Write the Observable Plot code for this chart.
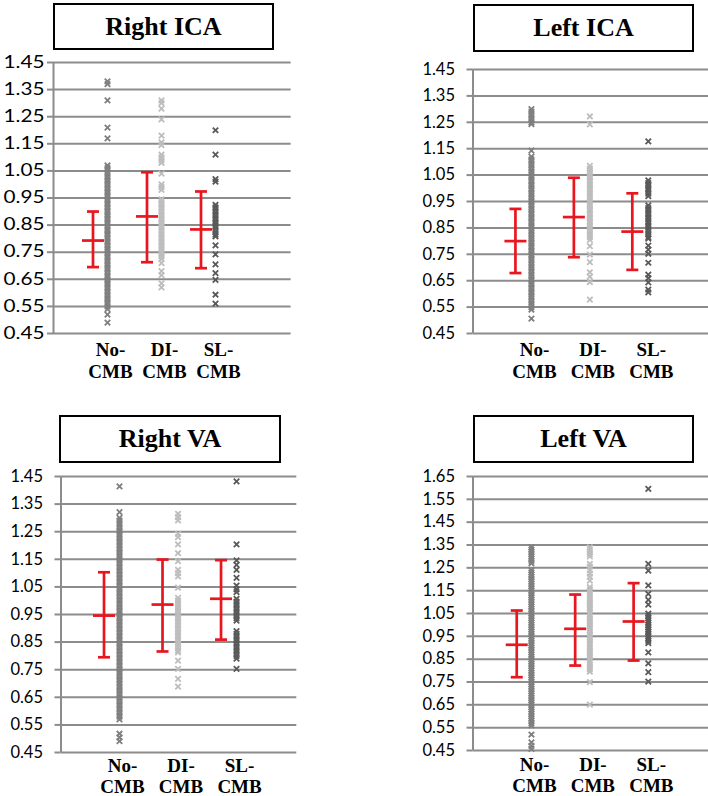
<!DOCTYPE html>
<html><head><meta charset="utf-8">
<script src="https://cdn.jsdelivr.net/npm/d3@7"></script>
<script src="https://cdn.jsdelivr.net/npm/@observablehq/plot@0.6"></script>
<style>
html,body{margin:0;padding:0;background:#fff;}
#root{position:relative;width:708px;height:796px;overflow:hidden;background:#fff;}
.title{position:absolute;box-sizing:border-box;border:2px solid #000;background:#fff;font-family:"Liberation Serif","Times New Roman",serif;font-weight:bold;font-size:26px;text-align:center;color:#000;}
svg g[aria-label="x-axis tick label"], svg g[aria-label="x-axis tick label"] text {font-family:"Liberation Serif","Times New Roman",serif !important;font-weight:bold !important;font-size:19px !important;}
svg g[aria-label="y-axis tick label"], svg g[aria-label="y-axis tick label"] text {font-family:"Lato",sans-serif !important;font-size:16.5px !important;}
</style></head><body><div id="root"></div><script>
// ---- categories & tick labels ----
const catNames = ["No-CMB", "DI-CMB", "SL-CMB"];
const catLabels = ["No-\nCMB", "DI-\nCMB", "SL-\nCMB"];
const yTicksA = [0.45, 0.55, 0.65, 0.75, 0.85, 0.95, 1.05, 1.15, 1.25, 1.35, 1.45];
const yTicksB = [0.45, 0.55, 0.65, 0.75, 0.85, 0.95, 1.05, 1.15, 1.25, 1.35, 1.45, 1.55, 1.65];

// ---- Right ICA ----
const rightICA_no = [1.38,1.37,1.31,1.21,1.17,1.07,1.06,1.05,1.04,1.03,1.02,1.01,1.00,0.99,0.98,0.97,0.96,0.95,0.94,0.93,0.92,0.91,0.90,0.89,0.88,0.87,0.86,0.85,0.84,0.83,0.82,0.81,0.80,0.79,0.78,0.77,0.76,0.75,0.74,0.73,0.72,0.71,0.70,0.69,0.68,0.67,0.66,0.65,0.64,0.63,0.62,0.61,0.60,0.59,0.58,0.57,0.56,0.55,0.54,0.52,0.49];
const rightICA_di = [1.31,1.30,1.28,1.24,1.18,1.155,1.145,1.11,1.10,1.09,1.08,1.04,1.00,0.99,0.98,0.945,0.935,0.925,0.915,0.905,0.895,0.885,0.875,0.865,0.855,0.845,0.835,0.825,0.815,0.805,0.795,0.785,0.775,0.765,0.755,0.745,0.735,0.725,0.71,0.68,0.665,0.635,0.62];
const rightICA_sl = [1.20,1.11,1.02,1.01,0.925,0.915,0.905,0.895,0.885,0.875,0.865,0.855,0.845,0.835,0.825,0.815,0.808,0.775,0.742,0.705,0.673,0.648,0.593,0.56];
const rightICA_mean = [0.793, 0.882, 0.834];
const rightICA_lo = [0.695, 0.713, 0.691];
const rightICA_hi = [0.900, 1.045, 0.974];

// ---- Left ICA ----
const leftICA_no = [1.30,1.29,1.28,1.27,1.26,1.25,1.243,1.143,1.12,1.11,1.10,1.09,1.08,1.07,1.06,1.05,1.04,1.03,1.02,1.01,1.00,0.99,0.98,0.97,0.96,0.95,0.94,0.93,0.92,0.91,0.90,0.89,0.88,0.87,0.86,0.85,0.84,0.83,0.82,0.81,0.80,0.79,0.78,0.77,0.76,0.75,0.74,0.73,0.72,0.71,0.70,0.69,0.68,0.67,0.66,0.65,0.64,0.63,0.62,0.61,0.60,0.59,0.58,0.57,0.56,0.55,0.54,0.506];
const leftICA_di = [1.272,1.242,1.085,1.075,1.065,1.055,1.045,1.035,1.025,1.015,1.005,0.995,0.985,0.975,0.965,0.955,0.945,0.935,0.925,0.915,0.905,0.895,0.885,0.875,0.865,0.855,0.845,0.835,0.825,0.815,0.805,0.781,0.749,0.72,0.682,0.665,0.645,0.578];
const leftICA_sl = [1.178,1.03,1.02,1.01,1.00,0.99,0.98,0.97,0.935,0.925,0.915,0.905,0.895,0.885,0.875,0.865,0.855,0.845,0.835,0.825,0.815,0.809,0.783,0.768,0.752,0.718,0.673,0.66,0.644,0.616,0.606];
const leftICA_mean = [0.800, 0.891, 0.836];
const leftICA_lo = [0.679, 0.739, 0.691];
const leftICA_hi = [0.922, 1.040, 0.981];

// ---- Right VA ----
const rightVA_no = [1.414,1.321,1.30,1.29,1.28,1.27,1.26,1.25,1.24,1.23,1.22,1.21,1.20,1.19,1.18,1.17,1.16,1.15,1.14,1.13,1.12,1.11,1.10,1.09,1.08,1.07,1.06,1.05,1.04,1.03,1.02,1.01,1.00,0.99,0.98,0.97,0.96,0.95,0.94,0.93,0.92,0.91,0.90,0.89,0.88,0.87,0.86,0.85,0.84,0.83,0.82,0.81,0.80,0.79,0.78,0.77,0.76,0.75,0.74,0.73,0.72,0.71,0.70,0.69,0.68,0.67,0.66,0.65,0.64,0.63,0.62,0.61,0.60,0.59,0.58,0.57,0.518,0.505,0.491];
const rightVA_di = [1.315,1.303,1.291,1.242,1.23,1.204,1.172,1.143,1.112,1.10,1.088,1.047,1.01,1.00,0.99,0.98,0.97,0.96,0.95,0.94,0.93,0.92,0.91,0.90,0.89,0.88,0.87,0.86,0.85,0.84,0.83,0.82,0.813,0.783,0.753,0.717,0.689];
const rightVA_sl = [1.432,1.204,1.146,1.13,1.112,1.083,1.055,1.041,1.031,1.007,0.997,0.987,0.977,0.967,0.957,0.947,0.937,0.928,0.89,0.88,0.87,0.86,0.85,0.84,0.83,0.82,0.81,0.80,0.79,0.753];
const rightVA_mean = [0.946, 0.986, 1.007];
const rightVA_lo = [0.795, 0.816, 0.859];
const rightVA_hi = [1.103, 1.149, 1.147];

// ---- Left VA ----
const leftVA_no = [1.34,1.33,1.32,1.31,1.30,1.29,1.28,1.27,1.24,1.23,1.22,1.21,1.20,1.19,1.18,1.17,1.16,1.15,1.14,1.13,1.12,1.11,1.10,1.09,1.08,1.07,1.06,1.05,1.04,1.03,1.02,1.01,1.00,0.99,0.98,0.97,0.96,0.95,0.94,0.93,0.92,0.91,0.90,0.89,0.88,0.87,0.86,0.85,0.84,0.83,0.82,0.81,0.80,0.79,0.78,0.77,0.76,0.75,0.74,0.73,0.72,0.71,0.70,0.69,0.68,0.67,0.66,0.65,0.64,0.63,0.62,0.61,0.60,0.59,0.58,0.57,0.56,0.52,0.486,0.47,0.457];
const leftVA_di = [1.34,1.33,1.32,1.31,1.30,1.267,1.255,1.24,1.225,1.21,1.194,1.165,1.155,1.145,1.135,1.125,1.115,1.105,1.095,1.085,1.075,1.065,1.055,1.045,1.035,1.025,1.015,1.005,0.995,0.985,0.975,0.965,0.955,0.945,0.935,0.925,0.915,0.905,0.895,0.885,0.875,0.865,0.855,0.845,0.835,0.825,0.815,0.805,0.795,0.749,0.651];
const leftVA_sl = [1.596,1.267,1.238,1.173,1.136,1.11,1.089,1.05,1.04,1.03,1.02,1.01,1.00,0.99,0.98,0.97,0.96,0.95,0.94,0.93,0.92,0.88,0.832,0.793,0.752];
const leftVA_mean = [0.913, 0.983, 1.015];
const leftVA_lo = [0.771, 0.822, 0.844];
const leftVA_hi = [1.063, 1.133, 1.183];

// ---- styles ----
const gridColor = "#8c8c8c";
const errColor = "#e8161e";
const markerColors = ["#7f7f7f", "#bdbdbd", "#595959"];
const hline = {draw(ctx, size) { const w = Math.sqrt(size / Math.PI); ctx.moveTo(-w, 0); ctx.lineTo(w, 0); }};

const root = document.getElementById("root");

function addTitle(text, left, top, w, h) {
  const d = document.createElement("div");
  d.className = "title";
  d.textContent = text;
  Object.assign(d.style, {left: left + "px", top: top + "px", width: w + "px", height: h + "px", lineHeight: (h - 4) + "px"});
  root.appendChild(d);
}

function panel(cfg, groups, mean, lo, hi) {
  const rows = groups.flatMap((vals, gi) => vals.map(v => ({g: gi + 1, cat: catNames[gi], v})));
  const eb = catNames.map((c, gi) => ({g: gi + 1, mean: mean[gi], lo: lo[gi], hi: hi[gi]}));
  const common = {dx: cfg.ebDx, stroke: errColor, strokeWidth: 2.7};
  const chart = Plot.plot({
    width: cfg.width, height: cfg.height,
    marginLeft: cfg.ml, marginRight: cfg.mr, marginTop: cfg.mt, marginBottom: cfg.mb,
    style: {fontFamily: "Lato, sans-serif", fontSize: "16.5px", color: "#000", background: "transparent", overflow: "visible"},
    x: {domain: cfg.xDomain, label: null},
    y: {domain: cfg.yDomain, label: null},
    color: {domain: catNames, range: markerColors},
    marks: [
      Plot.gridY(cfg.ticks, {stroke: gridColor, strokeOpacity: 1, strokeWidth: 2}),
      Plot.axisY(cfg.ticks, {label: null, tickSize: 6, tickPadding: cfg.tickPad, stroke: gridColor, strokeOpacity: 1, strokeWidth: 2, fill: "#000", tickFormat: d3.format(".2f"), fontSize: 16.5, fontFamily: "Lato"}),
      Plot.ruleX([cfg.xDomain[0]], {stroke: gridColor, strokeWidth: 2}),
      Plot.axisX([1, 2, 3], {label: null, tickSize: 0, tickPadding: cfg.labPad, tickFormat: i => catLabels[i - 1], fontFamily: "Liberation Serif", fontWeight: "bold", fontSize: 19, lineHeight: cfg.lh, dx: 3, fill: "#000"}),
      Plot.dot(rows, {x: "g", y: "v", symbol: "times", r: 2.6, stroke: "cat", strokeWidth: 1.8}),
      Plot.ruleX(eb, {x: "g", y1: "lo", y2: "hi", ...common}),
      Plot.dot(eb, {x: "g", y: "lo", symbol: hline, r: 6, fill: "none", ...common}),
      Plot.dot(eb, {x: "g", y: "hi", symbol: hline, r: 6, fill: "none", ...common}),
      Plot.dot(eb, {x: "g", y: "mean", symbol: hline, r: 11, fill: "none", ...common})
    ]
  });
  chart.style.position = "absolute";
  chart.style.left = cfg.left + "px";
  chart.style.top = cfg.top + "px";
  if (cfg.stretch) {
    chart.querySelectorAll('g[aria-label="y-axis tick label"] text').forEach(t => {
      t.setAttribute("textLength", cfg.stretch);
      t.setAttribute("lengthAdjust", "spacingAndGlyphs");
    });
  }
  root.appendChild(chart);
}

panel({left: 0, top: 40, width: 300, height: 340, ml: 53, mr: 9.4, mt: 22, mb: 47, xDomain: [0, 4.4], yDomain: [0.45, 1.45], ticks: yTicksA, tickPad: 3, ebDx: -14.5, stretch: 41, labPad: 6.5, lh: 1.16},
  [rightICA_no, rightICA_di, rightICA_sl], rightICA_mean, rightICA_lo, rightICA_hi);
panel({left: 360, top: 40, width: 348, height: 340, ml: 112.5, mr: 0, mt: 29, mb: 47, xDomain: [0, 4.03], yDomain: [0.45, 1.45], ticks: yTicksA, tickPad: 12, ebDx: -16, labPad: 6.5, lh: 1.16},
  [leftICA_no, leftICA_di, leftICA_sl], leftICA_mean, leftICA_lo, leftICA_hi);
panel({left: 0, top: 465, width: 300, height: 331, ml: 60.5, mr: 3.7, mt: 11, mb: 44, xDomain: [0, 4.03], yDomain: [0.45, 1.45], ticks: yTicksA, tickPad: 12, ebDx: -15.5, labPad: 5, lh: 1.1},
  [rightVA_no, rightVA_di, rightVA_sl], rightVA_mean, rightVA_lo, rightVA_hi);
panel({left: 360, top: 465, width: 348, height: 331, ml: 112.5, mr: 0, mt: 11, mb: 46, xDomain: [0, 4.03], yDomain: [0.45, 1.65], ticks: yTicksB, tickPad: 12, ebDx: -14.7, labPad: 5.5, lh: 1.1},
  [leftVA_no, leftVA_di, leftVA_sl], leftVA_mean, leftVA_lo, leftVA_hi);

addTitle("Right ICA", 53, 3, 221, 47);
addTitle("Left ICA", 473, 4, 221, 48);
addTitle("Right VA", 59, 415, 222, 48);
addTitle("Left VA", 473, 415, 221, 48);
</script></body></html>
